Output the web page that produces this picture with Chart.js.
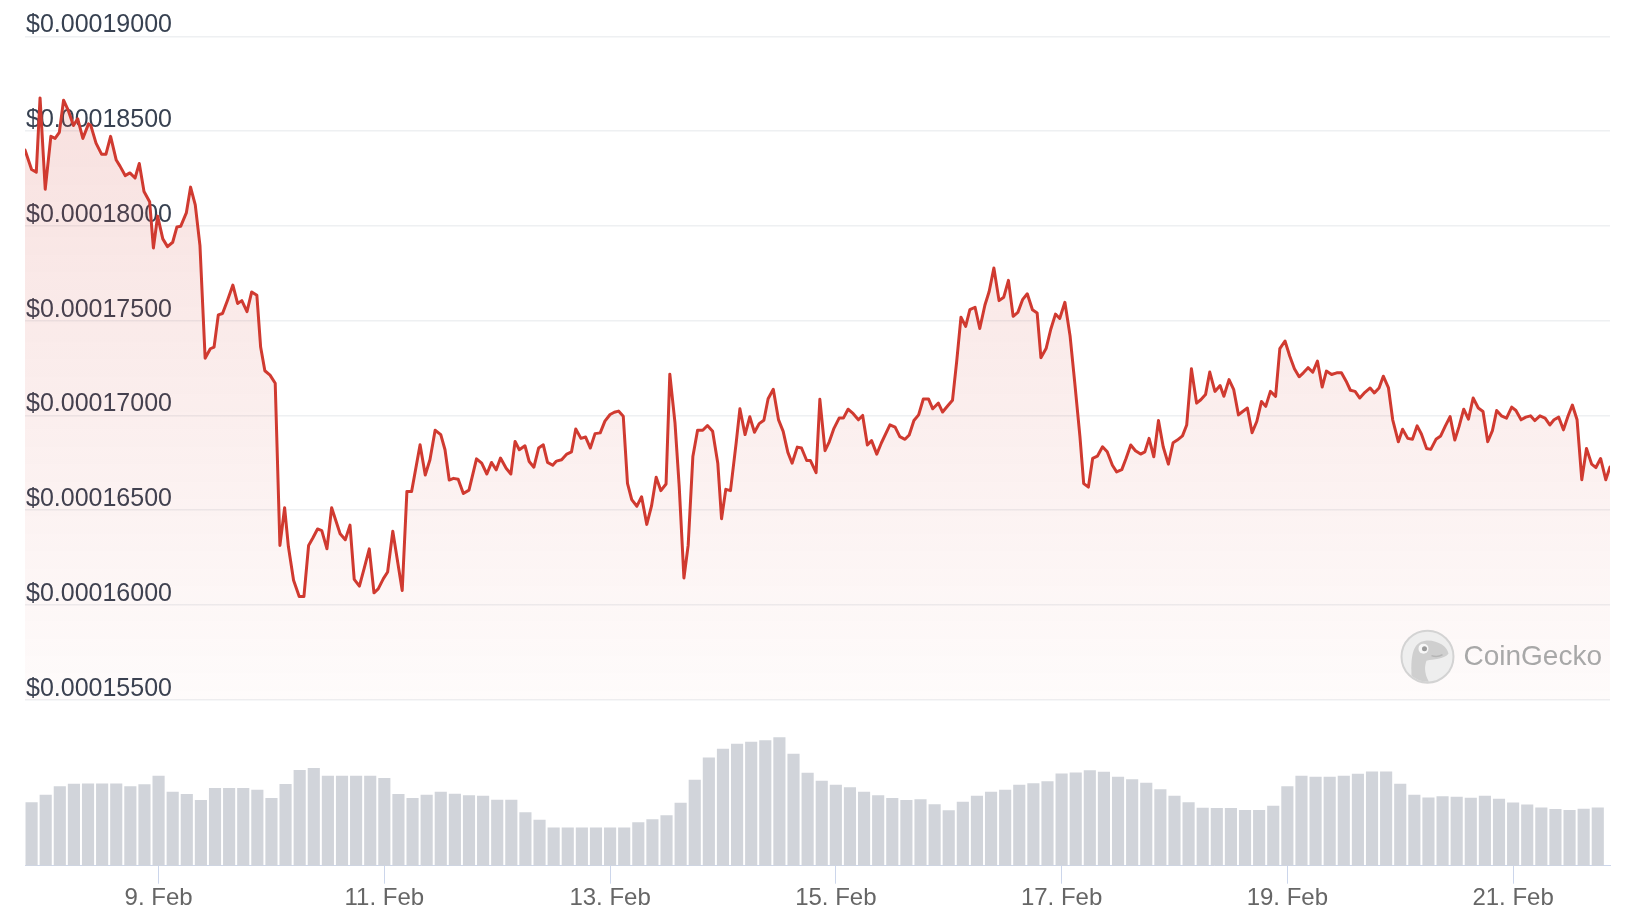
<!DOCTYPE html>
<html>
<head>
<meta charset="utf-8">
<script src="https://cdn.jsdelivr.net/npm/chart.js@4.4.1/dist/chart.umd.min.js"></script>
<style>
  html, body { margin: 0; padding: 0; background: #ffffff; }
  #wrap { position: relative; width: 1638px; height: 918px; }
</style>
</head>
<body>
<div id="wrap"><canvas id="c"></canvas></div>
<script>
// ---- Data (hours counted from 7 Feb 00:00) ----
const priceHours = [
  19.6,21.0,22.0,22.8,23.9,25.1,26.0,26.9,27.8,28.8,29.9,30.8,31.9,33.1,33.6,34.7,35.9,36.8,37.8,39.0,
  39.8,40.9,41.9,43.0,43.9,44.9,46.1,46.9,47.8,48.9,49.9,51.0,51.9,52.7,53.9,54.8,55.8,56.8,57.9,59.0,
  59.8,60.7,61.6,62.7,63.8,64.8,65.7,66.8,67.8,68.9,69.7,70.6,71.7,72.8,73.8,74.8,75.6,76.7,77.9,78.9,
  79.9,80.8,81.8,82.7,83.8,84.8,86.6,87.7,88.7,89.6,90.7,91.7,92.8,93.8,94.7,95.8,96.7,97.8,99.8,100.8,
  101.8,103.6,104.7,105.7,106.8,108.0,108.9,109.8,110.7,111.7,112.8,114.0,115.6,116.7,117.8,118.8,119.8,120.7,121.9,122.9,
  123.8,124.7,125.9,126.8,127.8,128.8,129.8,130.7,131.8,132.6,133.7,134.8,135.8,136.7,137.8,138.8,139.8,140.8,141.9,142.9,
  144.0,144.9,145.8,146.8,147.7,148.6,149.7,150.7,151.8,152.8,153.8,154.8,155.9,156.7,157.8,158.7,159.7,160.6,161.6,162.6,
  163.7,164.7,165.8,166.9,167.7,168.6,169.6,170.8,171.6,172.7,173.7,174.7,175.7,176.7,177.6,178.7,179.8,180.8,181.8,182.7,
  183.8,184.7,185.8,186.6,187.8,188.6,189.7,190.6,191.6,192.7,193.6,194.6,195.7,196.8,197.7,198.7,199.6,200.7,201.7,203.5,
  204.6,205.6,206.7,207.6,208.6,209.6,210.6,211.7,212.6,213.8,214.7,215.8,216.8,217.7,218.6,219.6,220.5,221.6,222.6,223.7,
  224.6,225.6,226.7,227.7,228.7,229.7,230.7,231.7,232.7,233.8,234.8,235.6,236.7,237.7,238.7,239.6,240.7,241.8,242.8,243.9,
  244.7,245.7,246.6,247.6,248.7,249.7,250.8,251.7,252.8,253.7,254.7,255.7,256.8,257.7,258.6,259.6,260.6,261.6,262.7,263.7,
  264.6,265.7,266.6,267.6,268.7,269.6,270.6,271.5,272.6,273.7,274.5,275.6,276.6,277.6,278.5,279.5,280.5,281.5,282.5,283.4,
  284.4,285.5,286.4,287.5,288.5,289.5,290.5,291.4,292.4,293.4,294.4,295.4,296.3,297.4,298.5,299.5,300.5,301.4,302.4,303.4,
  304.5,305.6,306.5,307.5,308.4,309.5,310.4,311.6,312.5,313.6,314.6,315.6,316.5,317.6,318.5,319.6,320.6,321.6,322.6,323.6,
  324.5,325.5,326.5,327.5,328.6,329.6,330.6,331.6,332.5,333.5,334.6,335.7,336.6,337.7,338.7,339.7,340.6,341.7,342.8,343.8,
  344.7,345.7,346.7,347.7,348.6,349.6,350.6,351.6,352.7,353.6,354.6,355.7,356.6
];
const prices = [
  0.00018401,0.00018298,0.00018284,0.00018676,0.00018194,0.00018473,0.00018462,0.00018494,0.00018664,0.00018610,
  0.00018530,0.00018566,0.00018462,0.00018539,0.00018530,0.00018437,0.00018378,0.00018378,0.00018473,0.00018348,
  0.00018316,0.00018266,0.00018280,0.00018253,0.00018330,0.00018182,0.00018128,0.00017884,0.00018052,0.00017932,
  0.00017891,0.00017914,0.00017995,0.00017998,0.00018069,0.00018205,0.00018111,0.00017896,0.00017302,0.00017352,
  0.00017361,0.00017531,0.00017538,0.00017611,0.00017688,0.00017591,0.00017606,0.00017548,0.00017652,0.00017634,
  0.00017361,0.00017236,0.00017213,0.00017170,0.00016314,0.00016513,0.00016308,0.00016130,0.00016044,0.00016044,
  0.00016314,0.00016353,0.00016401,0.00016392,0.00016296,0.00016513,0.00016376,0.00016344,0.00016421,0.00016135,
  0.00016099,0.00016192,0.00016296,0.00016064,0.00016085,0.00016139,0.00016174,0.00016389,0.00016076,0.00016599,
  0.00016599,0.00016845,0.00016686,0.00016766,0.00016922,0.00016899,0.00016819,0.00016659,0.00016668,0.00016663,
  0.00016588,0.00016606,0.00016771,0.00016748,0.00016691,0.00016752,0.00016713,0.00016775,0.00016721,0.00016691,
  0.00016863,0.00016819,0.00016840,0.00016757,0.00016727,0.00016828,0.00016845,0.00016752,0.00016737,0.00016759,
  0.00016766,0.00016796,0.00016808,0.00016929,0.00016879,0.00016886,0.00016828,0.00016904,0.00016908,0.00016970,
  0.00017005,0.00017017,0.00017023,0.00016996,0.00016642,0.00016556,0.00016521,0.00016571,0.00016425,0.00016521,
  0.00016674,0.00016603,0.00016638,0.00017218,0.00016961,0.00016624,0.00016142,0.00016314,0.00016783,0.00016922,
  0.00016922,0.00016947,0.00016916,0.00016748,0.00016455,0.00016610,0.00016603,0.00016854,0.00017035,0.00016899,
  0.00016993,0.00016911,0.00016957,0.00016975,0.00017088,0.00017138,0.00016978,0.00016916,0.00016805,0.00016748,
  0.00016833,0.00016828,0.00016762,0.00016762,0.00016698,0.00017085,0.00016814,0.00016861,0.00016932,0.00016986,
  0.00016986,0.00017033,0.00017009,0.00016977,0.00017000,0.00016844,0.00016867,0.00016796,0.00016856,0.00016950,
  0.00016938,0.00016888,0.00016874,0.00016897,0.00016973,0.00017003,0.00017087,0.00017087,0.00017035,0.00017065,
  0.00017018,0.00017051,0.00017080,0.00017287,0.00017518,0.00017470,0.00017558,0.00017571,0.00017459,0.00017583,
  0.00017654,0.00017778,0.00017606,0.00017624,0.00017713,0.00017523,0.00017544,0.00017611,0.00017642,0.00017558,
  0.00017541,0.00017305,0.00017353,0.00017455,0.00017535,0.00017512,0.00017597,0.00017420,0.00017172,0.00016888,
  0.00016640,0.00016622,0.00016773,0.00016785,0.00016835,0.00016808,0.00016737,0.00016702,0.00016714,0.00016773,
  0.00016844,0.00016814,0.00016796,0.00016808,0.00016879,0.00016782,0.00016973,0.00016835,0.00016743,0.00016856,
  0.00016870,0.00016892,0.00016950,0.00017246,0.00017065,0.00017083,0.00017110,0.00017229,0.00017127,0.00017158,
  0.00017101,0.00017189,0.00017136,0.00017003,0.00017021,0.00017039,0.00016909,0.00016968,0.00017074,0.00017048,
  0.00017127,0.00017101,0.00017353,0.00017393,0.00017314,0.00017246,0.00017204,0.00017225,0.00017252,0.00017228,
  0.00017287,0.00017150,0.00017234,0.00017216,0.00017225,0.00017225,0.00017181,0.00017133,0.00017127,0.00017092,
  0.00017122,0.00017145,0.00017119,0.00017145,0.00017207,0.00017145,0.00016977,0.00016861,0.00016927,0.00016879,
  0.00016874,0.00016945,0.00016902,0.00016826,0.00016821,0.00016874,0.00016892,0.00016945,0.00016994,0.00016870,
  0.00016941,0.00017033,0.00016980,0.00017092,0.00017039,0.00017021,0.00016861,0.00016920,0.00017026,0.00016998,
  0.00016986,0.00017044,0.00017026,0.00016977,0.00016991,0.00016998,0.00016973,0.00016998,0.00016986,0.00016950,
  0.00016977,0.00016991,0.00016924,0.00016998,0.00017055,0.00016977,0.00016661,0.00016826,0.00016743,0.00016725,
  0.00016773,0.00016661,0.00016728
];
const volumeHours = [
  21,24,27,30,33,36,39,42,45,48,51,54,57,60,63,66,69,72,75,78,
  81,84,87,90,93,96,99,102,105,108,111,114,117,120,123,126,129,132,135,138,
  141,144,147,150,153,156,159,162,165,168,171,174,177,180,183,186,189,192,195,198,
  201,204,207,210,213,216,219,222,225,228,231,234,237,240,243,246,249,252,255,258,
  261,264,267,270,273,276,279,282,285,288,291,294,297,300,303,306,309,312,315,318,
  321,324,327,330,333,336,339,342,345,348,351,354
];
// relative 24h volume (arbitrary units)
const volumes = [
  63.5,71,79.5,82,82.3,82.3,82.3,79.5,81.5,90,74,71.7,65.7,77.7,77.7,77.7,76,67.7,81.7,95.7,
  97.7,90,90,90,90,87.7,71.7,67.7,71,74,72,70.5,70,66,66,53.5,46,38.3,38.3,38.3,
  38.3,38.3,38.3,43.5,46.5,50.5,63,86,108.3,117,122,124,125.5,128.5,112,93,85,81,78.5,74,
  70.5,67.7,65.7,66.5,61.5,55.5,64,70,74,76,81,82.5,84.5,92.3,93.3,95.5,94,89,86.5,83,
  76.5,70,63.5,58,57.7,57.7,55.7,55.7,60,79.5,90,89,89,90,92,94.3,94.3,82,71,68.3,
  69.5,69,68,70,67,63.3,61.3,58.3,56.7,55.7,57,58.3
];
const priceTickValues = [0.000155, 0.00016, 0.000165, 0.00017, 0.000175, 0.00018, 0.000185, 0.00019];
const dayTickHours = [48, 96, 144, 192, 240, 288, 336];
const dayTickLabels = ['9. Feb', '11. Feb', '13. Feb', '15. Feb', '17. Feb', '19. Feb', '21. Feb'];

// ---- Styling / layout ----
const FONT = '"Liberation Sans", Arial, Helvetica, sans-serif';
const PRICE_TOP = 0.00019;
const PRICE_BASE = 0.000155;
const PRICE_AXIS_MIN = PRICE_BASE - (PRICE_TOP - PRICE_BASE) * (166 / 663);
const VOLUME_AXIS_MAX = 829.5;

const watermark = {
  id: 'watermark',
  afterDatasetsDraw(chart) {
    const { ctx, chartArea, scales } = chart;
    const cy = scales.y.getPixelForValue(PRICE_BASE) - 43;
    const right = chartArea.right - 8;
    ctx.save();
    ctx.font = '28px ' + FONT;
    ctx.textAlign = 'right';
    ctx.textBaseline = 'middle';
    ctx.fillStyle = '#a8a8a8';
    ctx.fillText('CoinGecko', right, cy + 1);
    const tw = ctx.measureText('CoinGecko').width;
    const cx = right - tw - 36;
    const r = 26;
    ctx.beginPath();
    ctx.arc(cx, cy, r, 0, Math.PI * 2);
    ctx.fillStyle = '#eeeeee';
    ctx.fill();
    ctx.lineWidth = 2;
    ctx.strokeStyle = '#d3d3d3';
    ctx.stroke();
    ctx.save();
    ctx.beginPath();
    ctx.arc(cx, cy, r - 1, 0, Math.PI * 2);
    ctx.clip();
    ctx.fillStyle = '#cfcfcf';
    ctx.beginPath();
    ctx.moveTo(cx - 16, cy + r);
    ctx.bezierCurveTo(cx - 16, cy + 6, cx - 18, cy - 14, cx - 2, cy - 16);
    ctx.bezierCurveTo(cx + 10, cy - 17, cx + 20, cy - 10, cx + 21, cy - 3);
    ctx.bezierCurveTo(cx + 16, cy + 3, cx + 6, cy + 2, cx - 1, cy + 4);
    ctx.bezierCurveTo(cx - 4, cy + 12, cx - 2, cy + 20, cx + 2, cy + r);
    ctx.closePath();
    ctx.fill();
    ctx.beginPath();
    ctx.arc(cx - 4, cy - 8, 5, 0, Math.PI * 2);
    ctx.fillStyle = '#f7f7f7';
    ctx.fill();
    ctx.beginPath();
    ctx.arc(cx - 3, cy - 8, 2.5, 0, Math.PI * 2);
    ctx.fillStyle = '#9a9a9a';
    ctx.fill();
    ctx.beginPath();
    ctx.moveTo(cx + 4, cy - 1);
    ctx.quadraticCurveTo(cx + 10, cy + 1, cx + 15, cy - 2);
    ctx.strokeStyle = '#b5b5b5';
    ctx.lineWidth = 1.5;
    ctx.stroke();
    ctx.restore();
    ctx.restore();
  }
};

const ctxEl = document.getElementById('c');
new Chart(ctxEl, {
  type: 'bar',
  data: {
    datasets: [
      {
        type: 'line',
        label: 'Price',
        data: priceHours.map((h, i) => ({ x: h, y: prices[i] })),
        yAxisID: 'y',
        borderColor: '#d03a30',
        borderWidth: 3,
        borderJoinStyle: 'round',
        borderCapStyle: 'round',
        pointRadius: 0,
        tension: 0,
        fill: { value: PRICE_BASE },
        backgroundColor: (c) => {
          const chart = c.chart;
          const { ctx, chartArea, scales } = chart;
          if (!chartArea || !scales.y) return 'rgba(208,58,48,0.08)';
          const g = ctx.createLinearGradient(0, scales.y.getPixelForValue(PRICE_TOP), 0, scales.y.getPixelForValue(PRICE_BASE));
          g.addColorStop(0, 'rgba(208,58,48,0.17)');
          g.addColorStop(1, 'rgba(208,58,48,0.02)');
          return g;
        },
        order: 0
      },
      {
        type: 'bar',
        label: 'Volume',
        data: volumeHours.map((h, i) => ({ x: h, y: volumes[i] })),
        yAxisID: 'y2',
        backgroundColor: '#d1d4da',
        borderWidth: 0,
        barPercentage: 0.86,
        categoryPercentage: 1,
        order: 1
      }
    ]
  },
  options: {
    responsive: true,
    maintainAspectRatio: false,
    animation: false,
    devicePixelRatio: 1,
    layout: { padding: { left: 23, right: 28, top: 36.5, bottom: 5.5 } },
    plugins: { legend: { display: false }, tooltip: { enabled: false } },
    scales: {
      x: {
        type: 'linear',
        min: priceHours[0],
        max: priceHours[priceHours.length - 1],
        offset: false,
        afterBuildTicks(scale) { scale.ticks = dayTickHours.map(v => ({ value: v })); },
        ticks: {
          autoSkip: false, maxRotation: 0, padding: 0,
          color: '#666666',
          font: { family: FONT, size: 24 },
          callback: (v, i) => dayTickLabels[i]
        },
        grid: { offset: false, drawOnChartArea: false, drawTicks: true, tickLength: 18, color: '#ccd6eb', lineWidth: 1 },
        border: { display: true, color: '#ccd6eb', width: 1 }
      },
      y: {
        type: 'linear',
        position: 'left',
        min: PRICE_AXIS_MIN,
        max: PRICE_TOP,
        afterBuildTicks(scale) { scale.ticks = priceTickValues.map(v => ({ value: v })); },
        ticks: {
          mirror: true, padding: 1, labelOffset: -11,
          color: '#374151',
          font: { family: FONT, size: 25 },
          callback: (v) => '$' + Number(v).toFixed(8)
        },
        grid: { color: '#eef0f2', lineWidth: 1.5, drawTicks: false },
        border: { display: false }
      },
      y2: {
        type: 'linear',
        display: false,
        min: 0,
        max: VOLUME_AXIS_MAX,
        grid: { display: false }
      }
    }
  },
  plugins: [watermark]
});
</script>
</body>
</html>
